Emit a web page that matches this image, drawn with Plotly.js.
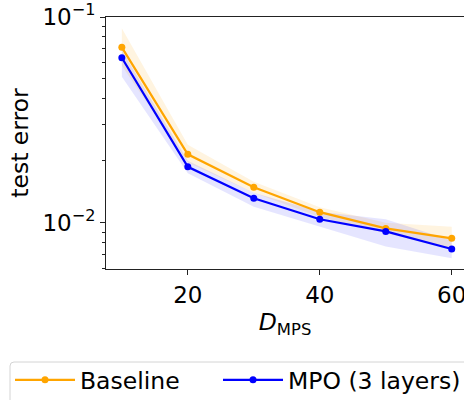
<!DOCTYPE html>
<html>
<head>
<meta charset="utf-8">
<script src="https://cdn.plot.ly/plotly-3.0.1.min.js"></script>
<style>html,body{margin:0;padding:0;background:#fff;}#chart{width:464px;height:400px;}</style>
</head>
<body>
<div id="chart"></div>
<script>
const D = [10, 20, 30, 40, 50, 60];
const baselineMean = [0.0712, 0.0215, 0.01486, 0.01125, 0.00938, 0.0084];
const baselineUpper = [0.0881, 0.0239, 0.0158, 0.0119, 0.0100, 0.00956];
const baselineLower = [0.0580, 0.0196, 0.0140, 0.01065, 0.0089, 0.0075];
const mpoMean = [0.0634, 0.0187, 0.01315, 0.0104, 0.00907, 0.00745];
const mpoUpper = [0.0690, 0.0200, 0.0140, 0.0113, 0.0104, 0.0082];
const mpoLower = [0.0512, 0.0174, 0.01197, 0.00956, 0.00766, 0.00671];
const seriesNames = ["Baseline", "MPO (3 layers)"];
const yTickVals = [0.01, 0.1];
const yTickText = ["10<sup>−2</sup>", "10<sup>−1</sup>"];
const xTickVals = [20, 40, 60];

const orange = "#FFA500", blue = "#0000FF";
function band(upper, lower, fillcolor) {
  return [
    {x: D, y: upper, mode: "lines", line: {width: 0}, showlegend: false, hoverinfo: "skip"},
    {x: D, y: lower, mode: "lines", line: {width: 0}, fill: "tonexty", fillcolor: fillcolor, showlegend: false, hoverinfo: "skip"}
  ];
}
const minorVals = [];
for (const dec of [0.001, 0.01]) for (let k = 2; k <= 9; k++) minorVals.push(k * dec);

const data = [
  ...band(baselineUpper, baselineLower, "rgba(255,165,0,0.12)"),
  ...band(mpoUpper, mpoLower, "rgba(0,0,255,0.10)"),
  {x: D, y: baselineMean, name: seriesNames[0], legend: "legend", mode: "lines+markers", line: {color: orange, width: 2.2}, marker: {color: orange, size: 7}},
  {x: D, y: mpoMean, name: seriesNames[1], legend: "legend2", mode: "lines+markers", line: {color: blue, width: 2.2}, marker: {color: blue, size: 7}}
];

// page geometry of the plot area (pixels)
const L = 106, R = 464, T = 17, B = 269;
const px2x = (px) => (px - L) / (R - L);
const px2y = (py) => (B - py) / (B - T);
// legend frame with a rounded top-left corner
const fx0 = 10, fy0 = 362, fx1 = 500, fy1 = 430, rad = 4;
const framePath = `M ${px2x(fx0)},${px2y(fy1)} L ${px2x(fx0)},${px2y(fy0 + rad)} Q ${px2x(fx0)},${px2y(fy0)} ${px2x(fx0 + rad)},${px2y(fy0)} L ${px2x(fx1)},${px2y(fy0)} L ${px2x(fx1)},${px2y(fy1)} Z`;

const FAM = "DejaVu Sans, Verdana, sans-serif";
const f = (s) => ({family: FAM, size: s, color: "#000"});
const legendCommon = {orientation: "h", yanchor: "middle", y: px2y(380), xanchor: "left",
  bgcolor: "rgba(0,0,0,0)", borderwidth: 0, font: f(23.5), itemwidth: 60};
const layout = {
  width: 464, height: 400,
  margin: {l: L, r: 464 - R, t: T, b: 400 - B, pad: 0, autoexpand: false},
  paper_bgcolor: "#fff", plot_bgcolor: "#fff",
  font: f(23.5),
  showlegend: true,
  legend: Object.assign({}, legendCommon, {x: px2x(10)}),
  legend2: Object.assign({}, legendCommon, {x: px2x(218)}),
  shapes: [{type: "path", xref: "paper", yref: "paper", path: framePath,
    line: {color: "#d4d4d4", width: 1}, fillcolor: "rgba(255,255,255,0.8)", layer: "below"}],
  xaxis: {
    range: [7.6, 61.86], tickvals: xTickVals, ticks: "outside", ticklen: 5, tickwidth: 1, tickcolor: "#222",
    ticklabeloverflow: "allow",
    showline: true, linecolor: "#222", linewidth: 1, mirror: true, showgrid: false, zeroline: false,
    tickfont: f(23),
    title: {text: "<i>D</i><sub>MPS</sub>", font: f(23.5), standoff: 5}
  },
  yaxis: {
    type: "log", range: [-2.225, -1], tickvals: yTickVals, ticktext: yTickText,
    ticks: "outside", ticklen: 5, tickwidth: 1, tickcolor: "#222",
    minor: {tickvals: minorVals, ticks: "outside", ticklen: 3, tickwidth: 1, tickcolor: "#222", showgrid: false},
    showline: true, linecolor: "#222", linewidth: 1, mirror: false, showgrid: false, zeroline: false,
    tickfont: f(23),
    title: {text: "test error", font: f(23.5), standoff: 7}
  }
};
Plotly.newPlot("chart", data, layout, {displayModeBar: false, staticPlot: true});
</script>
</body>
</html>
